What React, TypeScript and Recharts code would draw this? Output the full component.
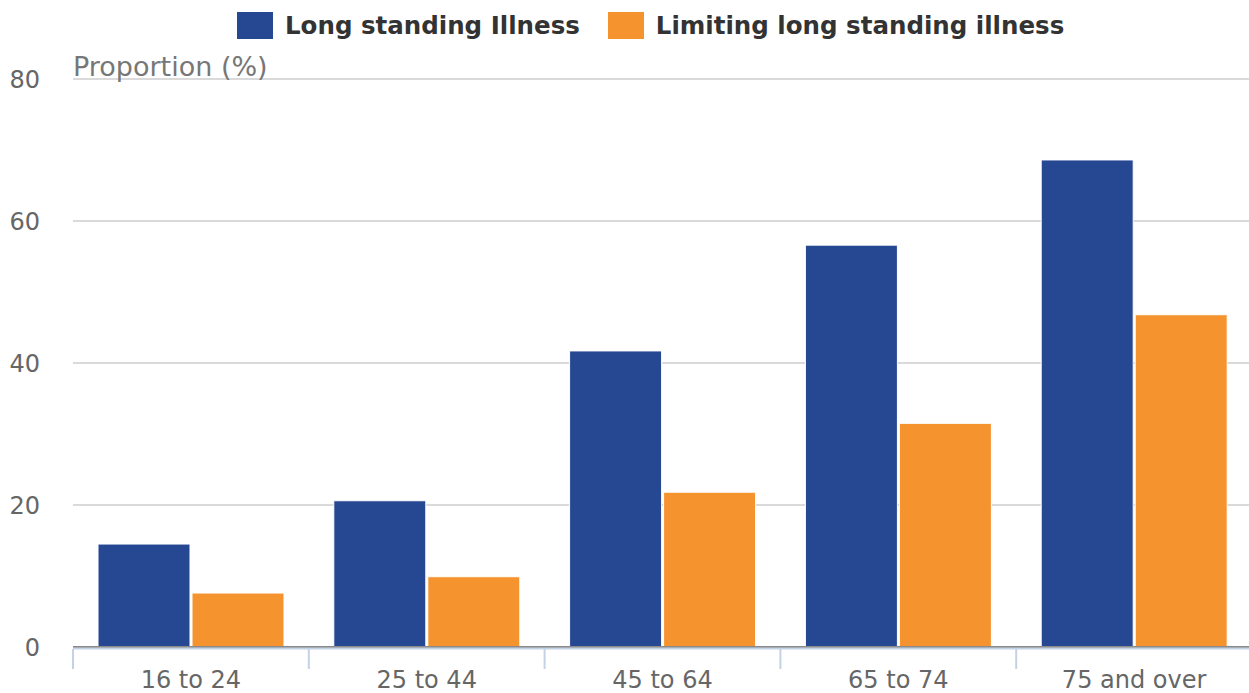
import React from "react";
import { BarChart, Bar, XAxis, YAxis, CartesianGrid, ReferenceLine } from "recharts";

const ageGroups = ["16 to 24", "25 to 44", "45 to 64", "65 to 74", "75 and over"];
const longStanding = [14.5, 20.6, 41.7, 56.6, 68.6];
const limiting = [7.6, 9.9, 21.8, 31.5, 46.8];
const yTicks = [0, 20, 40, 60, 80];

const series = [
  { key: "longStanding", label: "Long standing Illness", color: "#264792" },
  { key: "limiting", label: "Limiting long standing illness", color: "#f5942f" },
];

const data = ageGroups.map((group, i) => ({
  group,
  longStanding: longStanding[i],
  limiting: limiting[i],
}));

const FONT = "'DejaVu Sans', sans-serif";

function LegendBox() {
  return (
    <div
      style={{
        position: "absolute",
        top: 12,
        left: 237,
        display: "flex",
        alignItems: "center",
        height: 27,
      }}
    >
      {series.map((s, i) => (
        <div
          key={s.key}
          style={{ display: "flex", alignItems: "center", marginRight: i === 0 ? 28 : 0 }}
        >
          <span
            style={{
              display: "inline-block",
              width: 36,
              height: 27,
              background: s.color,
              marginRight: 12,
            }}
          />
          <span
            style={{
              fontFamily: FONT,
              fontWeight: "bold",
              fontSize: 24.5,
              lineHeight: "27px",
              color: "#333333",
              whiteSpace: "nowrap",
            }}
          >
            {s.label}
          </span>
        </div>
      ))}
    </div>
  );
}

// category boundary tick plus centred label
function CategoryTick(props: any) {
  const { x, y, payload } = props;
  const half = payload?.offset ?? 117.8;
  return (
    <g>
      <line x1={x - half} x2={x - half} y1={y + 2} y2={y + 22} stroke="#c3d2e4" strokeWidth={2} />
      <text
        x={x}
        y={y + 41}
        textAnchor="middle"
        fill="#666666"
        fontSize={24}
        fontFamily={FONT}
      >
        {payload.value}
      </text>
    </g>
  );
}

export default function App() {
  return (
    <div
      style={{
        position: "absolute",
        left: 0,
        top: 0,
        width: 1249,
        height: 693,
        overflow: "hidden",
        background: "#ffffff",
      }}
    >
      <BarChart
        width={1252}
        height={693}
        data={data}
        margin={{ top: 79, right: 0, bottom: 0, left: 0 }}
        barGap={2}
        barSize={92}
      >
        <CartesianGrid vertical={false} stroke="#dadada" strokeWidth={2} />
        <XAxis
          dataKey="group"
          height={46}
          tickLine={false}
          tickSize={0}
          tickMargin={0}
          axisLine={{ stroke: "#c3d2e4", strokeWidth: 2, transform: "translate(0 1.5)" }}
          tick={CategoryTick}
          interval={0}
        />
        <YAxis
          width={73}
          domain={[0, 80]}
          ticks={yTicks}
          axisLine={false}
          tickLine={false}
          tickSize={6}
          tickMargin={27}
          tick={{ fill: "#666666", fontSize: 24, fontFamily: FONT }}
        />
        <ReferenceLine y={0} stroke="#8a8a8a" strokeWidth={2} />
        {series.map((s) => (
          <Bar
            key={s.key}
            dataKey={s.key}
            name={s.label}
            fill={s.color}
            stroke="#ffffff"
            strokeWidth={1}
            isAnimationActive={false}
          />
        ))}
        <text x={73} y={76} fill="#777777" fontSize={27} fontFamily={FONT}>
          Proportion (%)
        </text>
      </BarChart>
      <LegendBox />
    </div>
  );
}
